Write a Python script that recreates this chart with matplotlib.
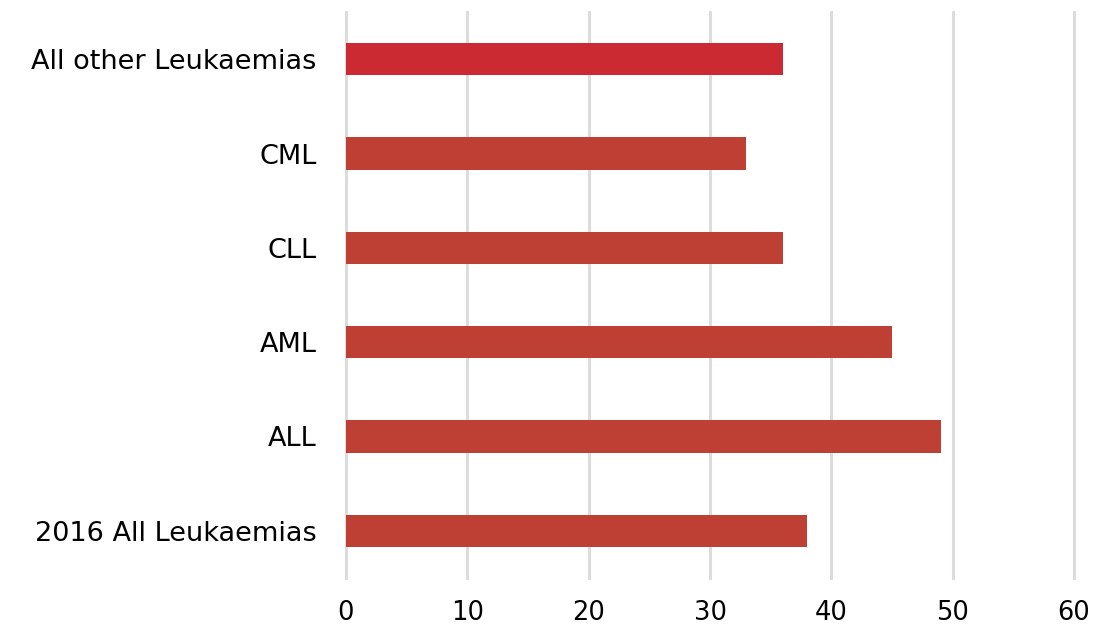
import matplotlib.pyplot as plt

categories = ["2016 All Leukaemias", "ALL", "AML", "CLL", "CML", "All other Leukaemias"]
values = [38, 49, 45, 36, 33, 36]
colors = ["#BE4035", "#BE4035", "#BE4035", "#BE4035", "#BE4035", "#CC2A32"]
xticks = [0, 10, 20, 30, 40, 50, 60]

plt.rcParams["font.family"] = ["DejaVu Sans"]

fig = plt.figure(figsize=(10.97, 6.26), dpi=100)
ax = fig.add_axes([0.3154, 0.0767, 0.6637, 0.9041])

ax.barh(categories, values, height=0.34, color=colors, zorder=3)

ax.set_xlim(0, 60)
ax.set_ylim(-0.5, 5.5)
ax.set_xticks(xticks)
ax.grid(axis="x", color="#DCDCDC", linewidth=2.2, zorder=0)
ax.grid(axis="y", visible=False)
for gl in ax.get_xgridlines():
    gl.set_clip_on(False)
for s in ax.spines.values():
    s.set_visible(False)
ax.tick_params(axis="both", length=0, colors="black")
ax.tick_params(axis="x", pad=16, labelsize=18.5)
ax.tick_params(axis="y", pad=21, labelsize=19.5)

fig.savefig("out.png", dpi=100)
